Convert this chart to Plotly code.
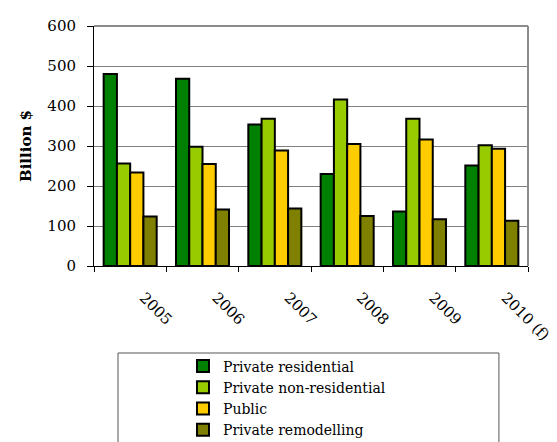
import plotly.graph_objects as go

# Construction spending by sector, billion $
years = ["2005", "2006", "2007", "2008", "2009", "2010 (f)"]
private_residential = [480, 468, 354, 230, 136, 251]
private_non_residential = [256, 298, 368, 416, 368, 302]
public = [234, 255, 289, 305, 316, 293]
private_remodelling = [124, 141, 144, 125, 117, 113]

series = [
    ("Private residential", private_residential, "#008000"),
    ("Private non-residential", private_non_residential, "#99CC00"),
    ("Public", public, "#FFCC00"),
    ("Private remodelling", private_remodelling, "#808000"),
]

FONT = "DejaVu Serif"

fig = go.Figure()
for name, values, color in series:
    fig.add_trace(go.Bar(
        x=years, y=values, name=name,
        marker=dict(color=color, line=dict(color="black", width=2)),
    ))

fig.update_layout(
    width=557, height=442,
    margin=dict(l=94, r=29, t=26, b=176, autoexpand=False),
    paper_bgcolor="white", plot_bgcolor="white",
    font=dict(family=FONT, size=15, color="black"),
    barmode="group", bargap=0.267, bargroupgap=0,
    showlegend=True,
    legend=dict(
        x=0.205, xanchor="left", y=-0.352, yanchor="top",
        bgcolor="rgba(0,0,0,0)", borderwidth=0,
        font=dict(family=FONT, size=14, color="black"),
        tracegroupgap=0,
    ),
    xaxis=dict(
        type="category", tickangle=45,
        showline=True, linecolor="black", linewidth=1,
        ticks="outside", tickson="boundaries", ticklen=5, tickcolor="black",
        ticklabelstandoff=16, ticklabelshift=14,
        showgrid=False, zeroline=False,
        tickfont=dict(family=FONT, size=15),
    ),
    yaxis=dict(
        range=[0, 600], dtick=100,
        showline=True, linecolor="black", linewidth=1,
        ticks="outside", ticklen=6, tickcolor="black",
        ticklabelstandoff=8,
        showgrid=True, gridcolor="#808080", gridwidth=1,
        zeroline=False,
        tickfont=dict(family=FONT, size=15),
        title=dict(text="<b>Billion $</b>", standoff=12,
                   font=dict(family=FONT, size=15)),
    ),
    shapes=[
        # top and right frame of the plot area
        dict(type="line", xref="x domain", yref="y domain",
             x0=0, x1=1, y0=1, y1=1, line=dict(color="#8c8c8c", width=2)),
        dict(type="line", xref="x domain", yref="y domain",
             x0=1, x1=1, y0=0, y1=1, line=dict(color="#8c8c8c", width=2)),
        # legend frame
        dict(type="rect", xref="paper", yref="paper",
             x0=0.0553, x1=0.933, y0=-0.3625, y1=-0.8,
             line=dict(color="#555555", width=1), fillcolor="rgba(0,0,0,0)"),
    ],
)

fig.write_html("out.html")
